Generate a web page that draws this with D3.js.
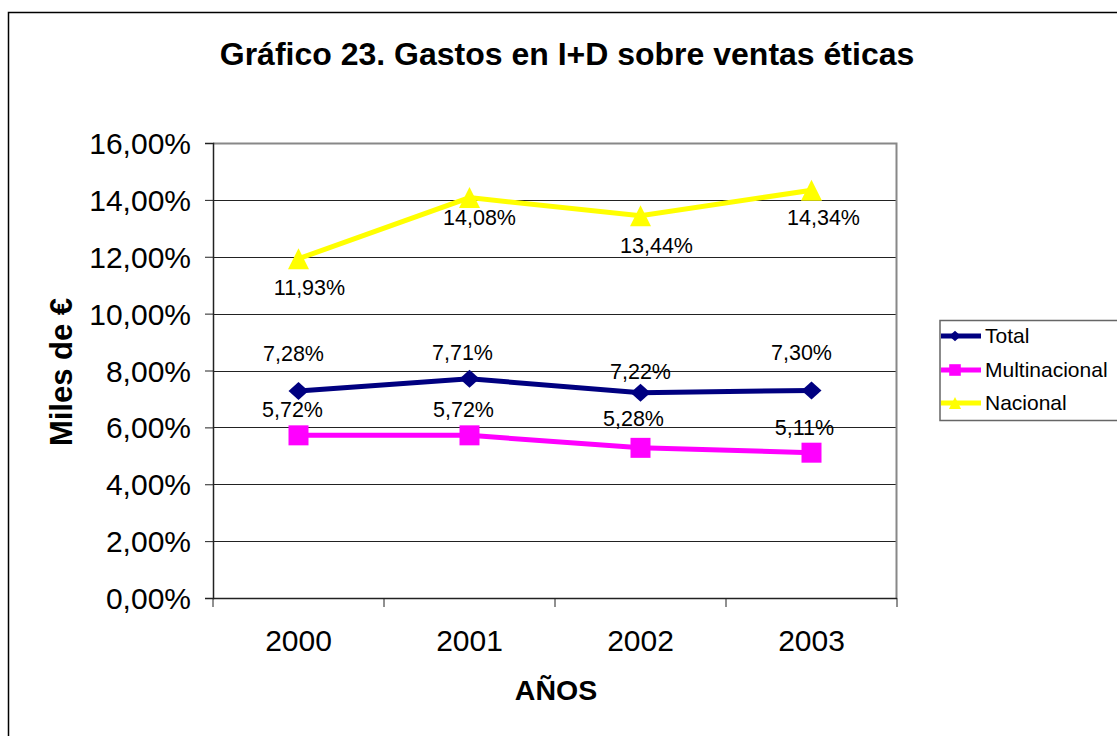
<!DOCTYPE html>
<html><head><meta charset="utf-8">
<script src="https://cdn.jsdelivr.net/npm/d3@7"></script>
<style>body{margin:0;background:#fff}svg{display:block}text{font-family:Arial,"Liberation Sans",sans-serif}</style>
</head><body>
<svg id="c" width="1117" height="736"></svg>
<script>
const years = ["2000","2001","2002","2003"];
const total = [7.28, 7.71, 7.22, 7.30];
const multinacional = [5.72, 5.72, 5.28, 5.11];
const nacional = [11.93, 14.08, 13.44, 14.34];
const yTicks = [0,2,4,6,8,10,12,14,16];
const seriesNames = ["Total","Multinacional","Nacional"];

const svg = d3.select("#c");
const m = {l:213, r:897, t:143, b:598};
const x = d3.scaleBand().domain(years).range([m.l, m.r]);
const y = d3.scaleLinear().domain([0,16]).range([m.b, m.t]);
const fmt = v => d3.format(".2f")(v).replace(".", ",") + "%";

svg.append("rect").attr("x",8.5).attr("y",12.5).attr("width",1130).attr("height",740)
  .attr("fill","none").attr("stroke","#000").attr("stroke-width",1.5);

svg.append("text").attr("x",567).attr("y",65).attr("text-anchor","middle")
  .attr("font-size",32).attr("font-weight","bold").text("Gráfico 23. Gastos en I+D sobre ventas éticas");

// gridlines
svg.append("g").selectAll("line").data(yTicks.filter(d=>d>0 && d<16)).join("line")
  .attr("x1",m.l).attr("x2",m.r).attr("y1",d=>Math.round(y(d))+0.5).attr("y2",d=>Math.round(y(d))+0.5)
  .attr("stroke","#222").attr("stroke-width",1);
svg.append("path").attr("d",`M${m.l},${m.t+0.5}H${m.r-0.5}V${m.b}`).attr("fill","none").attr("stroke","#888").attr("stroke-width",2);

// y axis
const yAxis = d3.axisLeft(y).tickValues(yTicks).tickSize(8).tickPadding(14).tickFormat(fmt);
const gy = svg.append("g").attr("transform",`translate(${m.l},0)`).call(yAxis);
gy.select(".domain").attr("stroke","#222").attr("stroke-width",1.5);
gy.selectAll(".tick line").attr("stroke","#222");
gy.selectAll("text").attr("font-size",30).attr("fill","#000").attr("font-family","Arial, 'Liberation Sans', sans-serif").attr("dy","0.35em");

// x axis
const gx = svg.append("g").attr("transform",`translate(0,${m.b})`);
gx.append("line").attr("x1",m.l).attr("x2",m.r).attr("y1",0.5).attr("y2",0.5).attr("stroke","#222").attr("stroke-width",1.5);
const edges = years.map(d=>x(d)).concat([m.r]);
gx.selectAll(".tk").data(edges).join("line").attr("class","tk")
  .attr("x1",d=>d).attr("x2",d=>d).attr("y1",0).attr("y2",9).attr("stroke","#222");
gx.selectAll(".lb").data(years).join("text").attr("class","lb")
  .attr("x",d=>x(d)+x.bandwidth()/2).attr("y",53).attr("text-anchor","middle").attr("font-size",30).text(d=>d);

svg.append("text").attr("x",556).attr("y",700).attr("text-anchor","middle")
  .attr("font-size",28.5).attr("font-weight","bold").text("AÑOS");
svg.append("text").attr("transform","translate(72,372) rotate(-90)").attr("text-anchor","middle")
  .attr("font-size",31).attr("font-weight","bold").text("Miles de €");

const cx = d => x(d)+x.bandwidth()/2;
const line = d3.line().x((v,i)=>cx(years[i])).y(v=>y(v));
const diamond = (w,h) => `M0,${-h/2}L${w/2},0L0,${h/2}L${-w/2},0Z`;
const square = s => `M${-s/2},${-s/2}h${s}v${s}h${-s}Z`;
const tri = (w,h) => `M0,${-h/2}L${w/2},${h/2}L${-w/2},${h/2}Z`;
const series = [
  {name:seriesNames[0], vals:total, color:"#000080", shape:k=>diamond(20*k,18*k),
    ldx:[-5,-7,0,-10], ldy:[-38,-26,-21,-38]},
  {name:seriesNames[1], vals:multinacional, color:"#ff00ff", shape:k=>square(20*k),
    ldx:[-6,-6,-7,-7], ldy:[-26,-26,-29,-25]},
  {name:seriesNames[2], vals:nacional, color:"#ffff00", shape:k=>tri(21*k,21*k),
    ldx:[11,10,16,12], ldy:[29,20,30,27]}
];
series.forEach(s=>{
  svg.append("path").attr("d",line(s.vals)).attr("fill","none").attr("stroke",s.color).attr("stroke-width",5);
  svg.append("g").selectAll("path").data(s.vals).join("path")
    .attr("transform",(v,i)=>`translate(${cx(years[i])},${y(v)})`)
    .attr("d",s.shape(1)).attr("fill",s.color);
});
series.forEach(s=>{
  svg.append("g").selectAll("text").data(s.vals).join("text")
    .attr("x",(v,i)=>cx(years[i])+s.ldx[i]).attr("y",(v,i)=>y(v)+s.ldy[i]).attr("dy","0.35em")
    .attr("text-anchor","middle").attr("font-size",21.5).text(fmt);
});

// legend
const lg = svg.append("g");
lg.append("rect").attr("x",940).attr("y",320.5).attr("width",190).attr("height",100)
  .attr("fill","#fff").attr("stroke","#666").attr("stroke-width",1.5);
series.forEach((s,i)=>{
  const yy = [336,370,403][i];
  lg.append("line").attr("x1",941).attr("x2",981).attr("y1",yy).attr("y2",yy).attr("stroke",s.color).attr("stroke-width",5);
  lg.append("path").attr("transform",`translate(955,${yy})`).attr("d",s.shape(0.58)).attr("fill",s.color);
  lg.append("text").attr("x",985).attr("y",yy).attr("dy","0.35em").attr("font-size",21).text(s.name);
});
</script>
</body></html>
